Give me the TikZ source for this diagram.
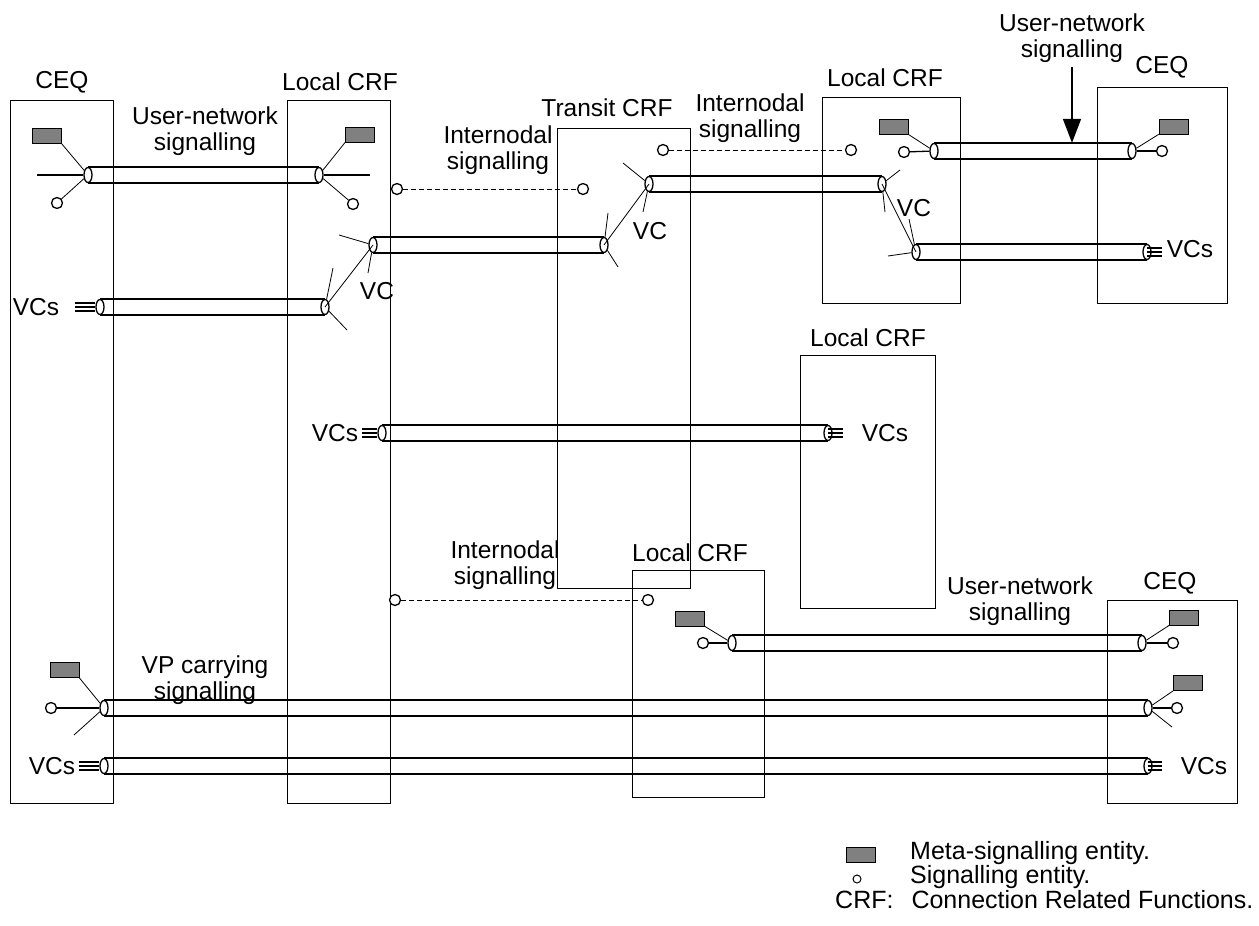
\documentclass[tikz,border=0pt]{standalone}
\usepackage{fontspec}
\setmainfont{Liberation Sans}
\usetikzlibrary{shapes.geometric,arrows.meta,calc}
\definecolor{metagray}{RGB}{128,128,128}
\begin{document}
\begin{tikzpicture}[x=1pt,y=-1pt,
  box/.style={draw,line width=1.3pt,inner sep=0pt,anchor=north west},
  pend/.style={ellipse,draw,fill=white,line width=1.3pt,minimum width=8pt,minimum height=15pt,inner sep=0pt},
  tube/.style={line width=1.8pt},
  meta/.style={draw,fill=metagray,line width=0.8pt,minimum width=29pt,minimum height=15pt,inner sep=0pt},
  sig/.style={circle,draw,fill=white,line width=1.3pt,minimum size=11pt,inner sep=0pt},
  thin/.style={line width=0.8pt},
  idash/.style={line width=0.9pt,dash pattern=on 5pt off 3pt},
  lbl/.style={font=\fontsize{24.5}{26}\selectfont,inner sep=0pt,align=center},
  leg/.style={font=\fontsize{25}{26}\selectfont,inner sep=0pt,anchor=west},
  vcs/.style={line width=1.3pt}
]
\useasboundingbox[fill=white] (0,0) rectangle (1259,926);

% ---------------- boxes ----------------
\node[box,minimum width=103pt,minimum height=703pt] (ceqA) at (10,100) {};
\node[box,minimum width=103pt,minimum height=703pt] (lcrfA) at (287,100) {};
\node[box,minimum width=133pt,minimum height=460pt] (tcrf) at (557,128) {};
\node[box,minimum width=138pt,minimum height=206pt] (lcrfB) at (822,97) {};
\node[box,minimum width=130pt,minimum height=216pt] (ceqB) at (1097,87) {};
\node[box,minimum width=135pt,minimum height=253pt] (lcrfC) at (800,355) {};
\node[box,minimum width=132pt,minimum height=227pt] (lcrfD) at (632,570) {};
\node[box,minimum width=130pt,minimum height=203pt] (ceqC) at (1107,600) {};

\node[lbl] (tceqA) at (62,82) {CEQ};
\node[lbl] (tlcrfA) at (340,82) {Local CRF};
\node[lbl] (ttcrf) at (607,108) {Transit CRF};
\node[lbl] (tlcrfB) at (885,78) {Local CRF};
\node[lbl] (tceqB) at (1162,67) {CEQ};
\node[lbl] (tlcrfC) at (868,338) {Local CRF};
\node[lbl] (tlcrfD) at (690,553) {Local CRF};
\node[lbl] (tceqC) at (1170,583) {CEQ};

% ---------------- pipe ends ----------------
\node[pend] (e1a) at (88,175) {};
\node[pend] (e1b) at (319,175) {};
\node[pend] (e2a) at (373,245) {};
\node[pend] (e2b) at (604,245) {};
\node[pend] (e3a) at (100,307) {};
\node[pend] (e3b) at (325,307) {};
\node[pend] (e4a) at (649,184) {};
\node[pend] (e4b) at (882,184) {};
\node[pend] (e5a) at (916,252) {};
\node[pend] (e5b) at (1147,252) {};
\node[pend] (e6a) at (934,151) {};
\node[pend] (e6b) at (1132,151) {};
\node[pend] (e7a) at (382,433) {};
\node[pend] (e7b) at (828,433) {};
\node[pend] (e8a) at (732,643) {};
\node[pend] (e8b) at (1142,643) {};
\node[pend] (e9a) at (104,708) {};
\node[pend] (e9b) at (1148,708) {};
\node[pend] (e10a) at (104,766) {};
\node[pend] (e10b) at (1148,766) {};

% ---------------- tubes ----------------
\foreach \a/\b in {e1a/e1b,e2a/e2b,e3a/e3b,e4a/e4b,e5a/e5b,e6a/e6b,e7a/e7b,e8a/e8b,e9a/e9b,e10a/e10b}{
  \draw[tube] (\a.north) -- (\b.north);
  \draw[tube] (\a.south) -- (\b.south);
}

% ---------------- signalling entities ----------------
\node[meta] (m1) at (46.5,135.5) {};
\node[sig] (s1) at (57,203) {};
\node[meta] (m2) at (360,134.5) {};
\node[sig] (s2) at (353,204) {};
\node[sig] (s3) at (397,189) {};
\node[sig] (s4) at (583,189) {};
\node[sig] (s5) at (663,150) {};
\node[sig] (s6) at (851,150) {};
\node[meta] (m3) at (893.5,126.5) {};
\node[sig] (s7) at (904,152) {};
\node[meta] (m4) at (1173.5,126.5) {};
\node[sig] (s8) at (1162,151) {};
\node[sig] (s9) at (395,600) {};
\node[sig] (s10) at (648,600) {};
\node[meta] (m5) at (690,618.5) {};
\node[sig] (s11) at (703,643) {};
\node[meta] (m6) at (1184,617.5) {};
\node[sig] (s12) at (1173,643) {};
\node[meta] (m7) at (64.5,670) {};
\node[sig] (s13) at (51,708) {};
\node[meta] (m8) at (1188,683) {};
\node[sig] (s14) at (1177,708) {};

% free ends
\coordinate (h1) at (37,175);
\coordinate (h2) at (370,175);
\coordinate (f2a1) at (339,235);
\coordinate (f2a2) at (368,273);
\coordinate (f2b1) at (608,213);
\coordinate (f2b2) at (618,267);
\coordinate (f3b1) at (333,268);
\coordinate (f3b2) at (347,330);
\coordinate (f4a1) at (623,163);
\coordinate (f4a2) at (643,212);
\coordinate (f4b1) at (900,170);
\coordinate (f4b2) at (885,212);
\coordinate (f5a1) at (909,219);
\coordinate (f5a2) at (888,256);
\coordinate (f9a) at (74,735);
\coordinate (f9b) at (1172,727);

% connections inside CEQ / CRF
\draw[tube] (h1) -- (e1a.west);
\draw[tube] (e1b.east) -- (h2);
\draw[thin] (m1.south east) -- (e1a);
\draw[thin] (e1a) -- (s1);
\draw[thin] (m2.south west) -- (e1b);
\draw[thin] (e1b) -- (s2);

\draw[thin] (e2a) -- (f2a1);
\draw[thin] (e2a) -- (f2a2);
\draw[thin] (e3b) -- (f3b1);
\draw[thin] (e3b) -- (f3b2);
\draw[thin] (e3b.center) -- (e2a.center);

\draw[thin] (e2b) -- (f2b1);
\draw[thin] (e2b) -- (f2b2);
\draw[thin] (e4a) -- (f4a1);
\draw[thin] (e4a) -- (f4a2);
\draw[thin] (e2b.center) -- (e4a.center);

\draw[thin] (e4b) -- (f4b1);
\draw[thin] (e4b) -- (f4b2);
\draw[thin] (e5a) -- (f5a1);
\draw[thin] (e5a) -- (f5a2);
\draw[thin] (e4b.center) -- (e5a.center);

\draw[vcs] (s7) -- (e6a);
\draw[thin] (m3.south east) -- (e6a);
\draw[vcs] (e6b) -- (s8);
\draw[thin] (m4.south west) -- (e6b);

\draw[vcs] (s11) -- (e8a);
\draw[thin] (m5.south east) -- (e8a);
\draw[vcs] (e8b) -- (s12);
\draw[thin] (m6.south west) -- (e8b);

\draw[vcs] (s13) -- (e9a);
\draw[thin] (m7.south east) -- (e9a);
\draw[thin] (e9a) -- (f9a);
\draw[vcs] (e9b) -- (s14);
\draw[thin] (m8.south west) -- (e9b);
\draw[thin] (e9b) -- (f9b);

% internodal dashed
\draw[idash] (s3) -- (s4);
\draw[idash] (s5) -- (s6);
\draw[idash] (s9) -- (s10);

% VC bundles
\foreach \d in {-4,0,4}{
  \draw[vcs] ([yshift=\d pt]e3a.west) -- ++(-20,0);
  \draw[vcs] ([yshift=\d pt]e7a.west) -- ++(-15,0);
  \draw[vcs] ([yshift=\d pt]e10a.west) -- ++(-20,0);
  \draw[vcs] ([yshift=\d pt]e5b.center) -- ++(15,0);
  \draw[vcs] ([yshift=\d pt]e7b.center) -- ++(15,0);
  \draw[vcs] ([yshift=\d pt]e10b.center) -- ++(14,0);
}

% ---------------- labels ----------------
\node[lbl] (lun1) at (205,131) {User-network\\signalling};
\node[lbl] (lin1) at (498,150) {Internodal\\signalling};
\node[lbl] (lin2) at (750,118) {Internodal\\signalling};
\node[lbl] (lun2) at (1072,38) {User-network\\signalling};
\node[lbl] (lin3) at (505,565) {Internodal\\signalling};
\node[lbl] (lun3) at (1020,601) {User-network\\signalling};
\node[lbl] (lvp) at (205,680) {VP carrying\\signalling};

\node[lbl] (vc1) at (377,291) {VC};
\node[lbl] (vc2) at (650,231) {VC};
\node[lbl] (vc3) at (914,208) {VC};
\node[lbl] (vcs1) at (36,307) {VCs};
\node[lbl] (vcs2) at (335,433) {VCs};
\node[lbl] (vcs3) at (885,433) {VCs};
\node[lbl] (vcs4) at (1190,249) {VCs};
\node[lbl] (vcs5) at (52,766) {VCs};
\node[lbl] (vcs6) at (1204,766) {VCs};

% arrow
\draw[line width=1.5pt,-{Triangle[width=18pt,length=24pt]}] (lun2.south) ++(0,4) -- (lun2.south |- e6a.north);

% ---------------- legend ----------------
\node[meta] (lm) at (861,855) {};
\node[circle,draw,line width=1pt,minimum size=8pt,inner sep=0pt] (ls) at (857,879) {};
\node[leg] (lt1) at (910,853) {Meta-signalling entity.};
\node[leg] (lt2) at (910,877) {Signalling entity.};
\node[leg] (lt3) at (835,900) {CRF:\hspace{18pt}Connection Related Functions.};
\end{tikzpicture}
\end{document}
